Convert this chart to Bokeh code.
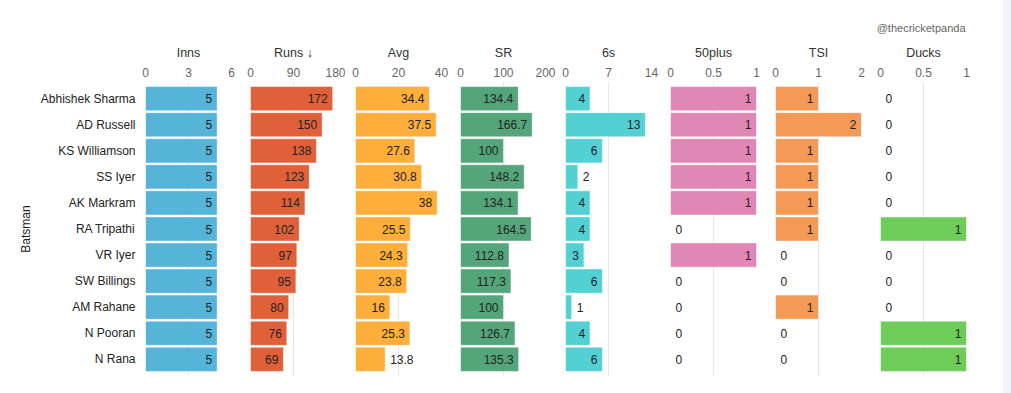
from bokeh.plotting import figure
from bokeh.models import FactorRange, Range1d, FixedTicker, ColumnDataSource, Div, NumeralTickFormatter
from bokeh.layouts import row, column
from bokeh.core.properties import value
from bokeh.embed import file_html
from bokeh.resources import INLINE

batsmen = ["Abhishek Sharma", "AD Russell", "KS Williamson", "SS Iyer", "AK Markram",
           "RA Tripathi", "VR Iyer", "SW Billings", "AM Rahane", "N Pooran", "N Rana"]
inns = [5, 5, 5, 5, 5, 5, 5, 5, 5, 5, 5]
runs = [172, 150, 138, 123, 114, 102, 97, 95, 80, 76, 69]
avg = [34.4, 37.5, 27.6, 30.8, 38, 25.5, 24.3, 23.8, 16, 25.3, 13.8]
sr = [134.4, 166.7, 100, 148.2, 134.1, 164.5, 112.8, 117.3, 100, 126.7, 135.3]
sixes = [4, 13, 6, 2, 4, 4, 3, 6, 1, 4, 6]
fifty = [1, 1, 1, 1, 1, 0, 1, 0, 0, 0, 0]
tsi = [1, 2, 1, 1, 1, 1, 0, 0, 1, 0, 0]
ducks = [0, 0, 0, 0, 0, 1, 0, 0, 0, 1, 1]

panel_titles = ["Inns", "Runs \u2193", "Avg", "SR", "6s", "50plus", "TSI", "Ducks"]
panel_values = [inns, runs, avg, sr, sixes, fifty, tsi, ducks]
panel_max = [6, 180, 40, 200, 14, 1, 2, 1]
panel_colors = ["#56b4d9", "#e0603a", "#fdae3b", "#55a57b", "#52d0d3", "#e087b5", "#f39a57", "#6dcd58"]
watermark = "@thecricketpanda"

FONT = "Liberation Sans"
FRAME_W = 86
FRAME_H = 293
LEFT0 = 145
HEAD_H = 38


def fmt(v):
    return f"{v:g}"


figs = []
for i, (title, vals, vmax, color) in enumerate(zip(panel_titles, panel_values, panel_max, panel_colors)):
    first = i == 0
    p = figure(
        y_range=FactorRange(factors=batsmen[::-1], range_padding=0.022),
        x_range=Range1d(0, vmax),
        x_axis_location="above",
        frame_width=FRAME_W, frame_height=FRAME_H,
        min_border_left=LEFT0 if first else 10, min_border_right=9,
        min_border_top=10, min_border_bottom=8,
        toolbar_location=None, output_backend="svg",
        title=title,
    )
    p.title.align = "center"
    p.title.text_font = FONT
    p.title.text_font_size = "12.5px"
    p.title.text_font_style = "normal"
    p.title.text_color = "#333333"
    p.outline_line_color = None
    p.background_fill_color = "white"

    src = ColumnDataSource(dict(name=batsmen, val=vals))
    p.hbar(y="name", left=0, right="val", height=0.93, source=src,
           fill_color=color, line_color="white", line_alpha=0.5, line_width=1)

    ins = dict(name=[], val=[], txt=[])
    outs = dict(name=[], val=[], txt=[])
    for n, v in zip(batsmen, vals):
        t = fmt(v)
        bar_px = v / vmax * FRAME_W
        tgt = ins if bar_px >= len(t) * 7 + 10 else outs
        tgt["name"].append(n)
        tgt["val"].append(v)
        tgt["txt"].append(t)
    p.text(x="val", y="name", text="txt", source=ColumnDataSource(ins),
           x_offset=-5, text_align="right", text_baseline="middle",
           text_font=value(FONT), text_font_size="12px", text_color="#222222")
    p.text(x="val", y="name", text="txt", source=ColumnDataSource(outs),
           x_offset=5, text_align="left", text_baseline="middle",
           text_font=value(FONT), text_font_size="12px", text_color="#222222")

    ax = p.xaxis[0]
    ax.ticker = FixedTicker(ticks=[0, vmax / 2, vmax])
    ax.formatter = NumeralTickFormatter(format="0.[0]")
    ax.axis_line_color = None
    ax.major_tick_line_color = None
    ax.minor_tick_line_color = None
    ax.major_label_text_font = FONT
    ax.major_label_text_font_size = "12px"
    ax.major_label_text_color = "#666666"
    ax.major_label_standoff = 0

    p.xgrid.grid_line_color = "#e6e6e6"
    p.ygrid.grid_line_color = None

    ya = p.yaxis[0]
    if first:
        ya.axis_line_color = None
        ya.major_tick_line_color = None
        ya.minor_tick_line_color = None
        ya.major_label_text_font = FONT
        ya.major_label_text_font_size = "12px"
        ya.major_label_text_color = "#222222"
        ya.major_label_standoff = 4
        ya.axis_label = "Batsman"
        ya.axis_label_text_font = FONT
        ya.axis_label_text_font_size = "12px"
        ya.axis_label_text_font_style = "normal"
        ya.axis_label_text_color = "#222222"
        ya.axis_label_standoff = 5
    else:
        ya.visible = False
    figs.append(p)

total_w = LEFT0 + FRAME_W + 9 + 7 * (10 + FRAME_W + 9)

# header strip holding the watermark (screen-pixel coordinate system)
head = figure(width=total_w, height=HEAD_H, x_range=Range1d(0, total_w), y_range=Range1d(HEAD_H, 0),
              min_border=0, toolbar_location=None, output_backend="svg")
head.axis.visible = False
head.grid.visible = False
head.outline_line_color = None
head.text(x=[total_w - 10], y=[27], text=[watermark], text_align="right", text_baseline="middle",
          text_font=value(FONT), text_font_size="11px", text_color="#666666")

strip = Div(text="<div style=\"position:fixed;right:0;top:0;width:8px;height:100%;background:#f0f4fa\"></div>",
            width=1, height=1, margin=(0, 0, 0, 0))

layout = column(row(head, strip), row(*figs))
open("out.html", "w").write(file_html(layout, INLINE))
